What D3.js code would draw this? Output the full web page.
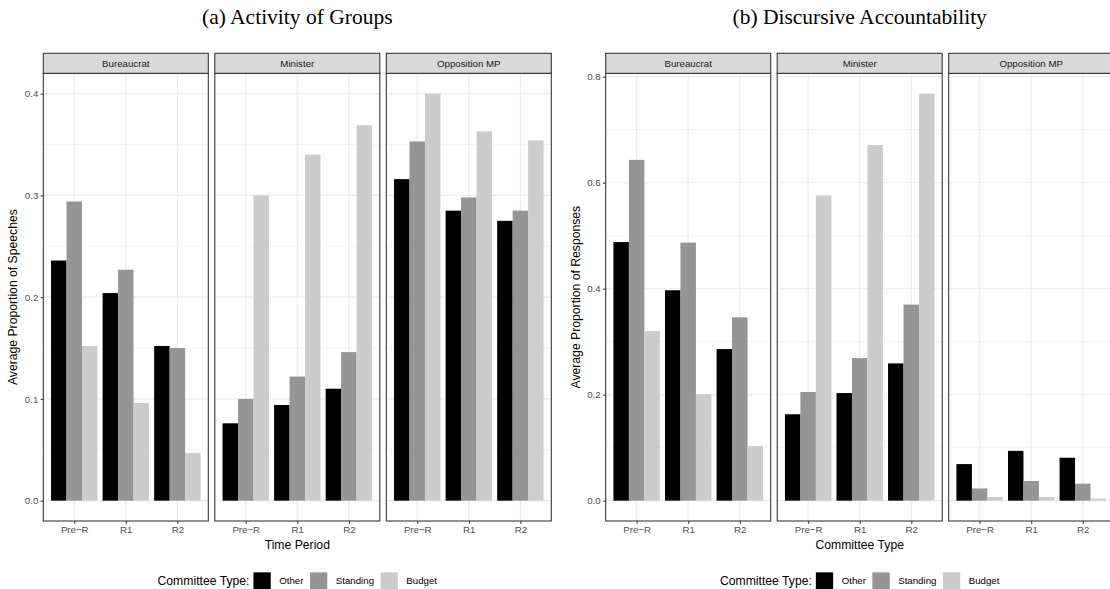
<!DOCTYPE html>
<html>
<head>
<meta charset="utf-8">
<script src="https://cdn.jsdelivr.net/npm/d3@7"></script>
<style>
  html, body { margin: 0; padding: 0; background: #fff; }
  svg { display: block; }
  text { font-family: "Liberation Sans", Arial, sans-serif; }
</style>
</head>
<body>
<svg id="chart" width="1110" height="589"></svg>
<script>
// ---------------- data ----------------
const periods = ["Pre\u2212R", "R1", "R2"];
const facets = ["Bureaucrat", "Minister", "Opposition MP"];
const seriesNames = ["Other", "Standing", "Budget"];
const seriesColors = ["#000000", "#959595", "#cccccc"];

// (a) Activity of Groups — rows: periods; columns: Other, Standing, Budget
const actBureaucrat = [[0.236, 0.294, 0.152], [0.204, 0.227, 0.096], [0.152, 0.150, 0.047]];
const actMinister   = [[0.076, 0.100, 0.300], [0.094, 0.122, 0.340], [0.110, 0.146, 0.369]];
const actOpposition = [[0.316, 0.353, 0.400], [0.285, 0.298, 0.363], [0.275, 0.285, 0.354]];

// (b) Discursive Accountability
const respBureaucrat = [[0.488, 0.643, 0.320], [0.397, 0.487, 0.201], [0.286, 0.346, 0.103]];
const respMinister   = [[0.163, 0.205, 0.576], [0.203, 0.269, 0.671], [0.259, 0.370, 0.768]];
const respOpposition = [[0.069, 0.023, 0.007], [0.094, 0.037, 0.007], [0.081, 0.032, 0.004]];

const ticksA = [0.0, 0.1, 0.2, 0.3, 0.4];
const minorA = [0.05, 0.15, 0.25, 0.35];
const ticksB = [0.0, 0.2, 0.4, 0.6, 0.8];
const minorB = [0.1, 0.3, 0.5, 0.7];

// ---------------- drawing ----------------
const svg = d3.select("#chart");
const smallFont = "9.7px";
const titleFont = "12.2px";

function drawChart(opt) {
  const g = svg.append("g");
  const panelW = 165, gap = 6.5;
  const top = 73.3, bottom = 521, stripTop = 53.3;
  const x0 = opt.left;
  const allVals = opt.data.flat(2);
  const maxV = d3.max(allVals);
  const y = d3.scaleLinear().domain([-0.05 * maxV, 1.05 * maxV]).range([bottom, top]);
  const centerX = x0 + (3 * panelW + 2 * gap) / 2;

  // title
  g.append("text").attr("x", centerX).attr("y", 24)
    .attr("text-anchor", "middle")
    .style("font-family", "'Liberation Serif', 'DejaVu Serif', serif")
    .style("font-size", "21.5px").attr("fill", "#000")
    .text(opt.title);

  facets.forEach((f, i) => {
    const px = x0 + i * (panelW + gap);
    const xs = d3.scalePoint().domain(periods).range([px, px + panelW]).padding(0.6);
    const step = xs.step();
    const inner = d3.scaleBand().domain(seriesNames).range([-0.45 * step, 0.45 * step]).padding(0);
    const pg = g.append("g");

    // grid
    pg.selectAll(".minor").data(opt.minor).join("line")
      .attr("x1", px).attr("x2", px + panelW)
      .attr("y1", d => y(d)).attr("y2", d => y(d))
      .attr("stroke", "#ebebeb").attr("stroke-width", 0.55);
    pg.selectAll(".major").data(opt.ticks).join("line")
      .attr("x1", px).attr("x2", px + panelW)
      .attr("y1", d => y(d)).attr("y2", d => y(d))
      .attr("stroke", "#ebebeb").attr("stroke-width", 1.07);
    pg.selectAll(".vmajor").data(periods).join("line")
      .attr("x1", d => xs(d)).attr("x2", d => xs(d))
      .attr("y1", top).attr("y2", bottom)
      .attr("stroke", "#ebebeb").attr("stroke-width", 1.07);

    // bars
    const rows = opt.data[i];
    periods.forEach((p, pi) => {
      seriesNames.forEach((s, si) => {
        const v = rows[pi][si];
        pg.append("rect")
          .attr("x", xs(p) + inner(s))
          .attr("width", inner.bandwidth())
          .attr("y", y(Math.max(0, v)))
          .attr("height", Math.abs(y(v) - y(0)))
          .attr("fill", seriesColors[si]);
      });
    });

    // panel border
    pg.append("rect").attr("x", px).attr("y", top).attr("width", panelW).attr("height", bottom - top)
      .attr("fill", "none").attr("stroke", "#333333").attr("stroke-width", 1.07);

    // strip
    pg.append("rect").attr("x", px).attr("y", stripTop).attr("width", panelW).attr("height", top - stripTop)
      .attr("fill", "#d9d9d9").attr("stroke", "#333333").attr("stroke-width", 1.07);
    pg.append("text").attr("x", px + panelW / 2).attr("y", (stripTop + top) / 2)
      .attr("dy", "0.35em").attr("text-anchor", "middle")
      .style("font-size", smallFont).attr("fill", "#1a1a1a").text(f);

    // x axis
    const xa = pg.append("g").attr("transform", `translate(0,${bottom})`)
      .call(d3.axisBottom(xs).tickSize(2.7).tickPadding(2.3));
    xa.select(".domain").remove();
    xa.selectAll(".tick line").attr("stroke", "#333333").attr("stroke-width", 1.07);
    xa.selectAll(".tick text").style("font-size", smallFont).attr("fill", "#4d4d4d")
      .style("font-family", "'Liberation Sans', Arial, sans-serif");

    if (i === 0) {
      const ya = pg.append("g").attr("transform", `translate(${px},0)`)
        .call(d3.axisLeft(y).tickValues(opt.ticks).tickFormat(d3.format(".1f")).tickSize(2.7).tickPadding(2.3));
      ya.select(".domain").remove();
      ya.selectAll(".tick line").attr("stroke", "#333333").attr("stroke-width", 1.07);
      ya.selectAll(".tick text").style("font-size", smallFont).attr("fill", "#4d4d4d")
        .style("font-family", "'Liberation Sans', Arial, sans-serif");
    }
  });

  // axis titles
  g.append("text").attr("x", centerX).attr("y", 545).attr("dy", "0.35em")
    .attr("text-anchor", "middle").style("font-size", titleFont).attr("fill", "#000")
    .text(opt.xTitle);
  g.append("text")
    .attr("transform", `translate(${opt.yTitleX},${(top + bottom) / 2}) rotate(-90)`)
    .attr("dy", "0.35em").attr("text-anchor", "middle")
    .style("font-size", titleFont).attr("fill", "#000").text(opt.yTitle);

  // legend
  const lg = g.append("g");
  const ly = 581;
  const keyS = 17.3;
  let cx = 0;
  const lt = lg.append("text").attr("x", cx).attr("y", ly).attr("dy", "0.35em")
    .style("font-size", titleFont).attr("fill", "#000").text("Committee Type:");
  cx += lt.node().getComputedTextLength() + 4;
  seriesNames.forEach((s, si) => {
    lg.append("rect").attr("x", cx).attr("y", ly - keyS / 2).attr("width", keyS).attr("height", keyS)
      .attr("fill", seriesColors[si]);
    cx += keyS + 8.5;
    const t = lg.append("text").attr("x", cx).attr("y", ly).attr("dy", "0.35em")
      .style("font-size", smallFont).attr("fill", "#000").text(s);
    cx += t.node().getComputedTextLength() + (si < 2 ? 6.5 : 0);
  });
  lg.attr("transform", `translate(${centerX - cx / 2},0)`);
}

drawChart({
  left: 43.3, title: "(a) Activity of Groups",
  data: [actBureaucrat, actMinister, actOpposition],
  ticks: ticksA, minor: minorA,
  xTitle: "Time Period", yTitle: "Average Proportion of Speeches", yTitleX: 13
});
drawChart({
  left: 605.7, title: "(b) Discursive Accountability",
  data: [respBureaucrat, respMinister, respOpposition],
  ticks: ticksB, minor: minorB,
  xTitle: "Committee Type", yTitle: "Average Proportion of Responses", yTitleX: 576
});
</script>
</body>
</html>
